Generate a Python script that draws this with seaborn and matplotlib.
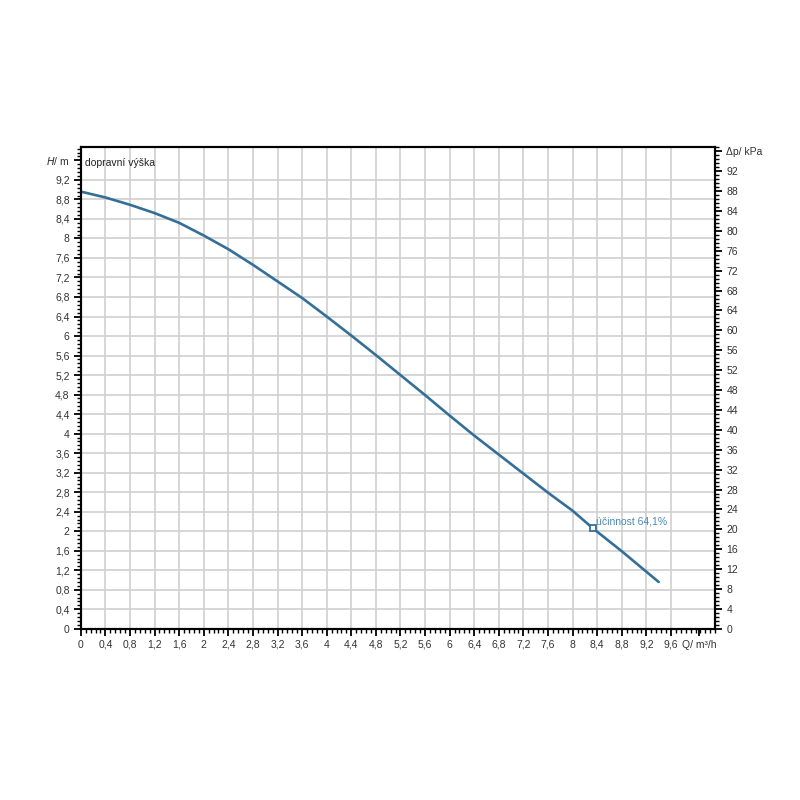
import seaborn as sns
import matplotlib.pyplot as plt
import pandas as pd
import numpy as np
from matplotlib.ticker import MultipleLocator, FixedLocator

# pump curve
Q = [0, 0.4, 0.8, 1.2, 1.6, 2.0, 2.4, 2.8, 3.2, 3.6, 4.0, 4.4, 4.8, 5.2, 5.6,
     6.0, 6.4, 6.8, 7.2, 7.6, 8.0, 8.33, 8.8, 9.2, 9.4]
H = [8.96, 8.84, 8.69, 8.52, 8.32, 8.06, 7.78, 7.46, 7.12, 6.78, 6.40, 6.01, 5.61, 5.20, 4.79,
     4.37, 3.96, 3.57, 3.18, 2.79, 2.42, 2.06, 1.59, 1.17, 0.96]
duty_q = 8.33
duty_h = 2.06
duty_text = 'účinnost 64,1%'

x_ticks = [round(0.4 * i, 1) for i in range(25)]
h_ticks = [round(0.4 * i, 1) for i in range(24)]
p_ticks = list(range(0, 93, 4))
RHO_G = 9.81

df = pd.DataFrame({'Q': Q, 'H': H})

sns.set_style('white')
plt.rcParams['font.family'] = ['Liberation Sans', 'DejaVu Sans']

fig = plt.figure(figsize=(8, 8), dpi=100)
ax = fig.add_axes([0.101, 0.214, 0.793, 0.602])

line_col = '#336f98'
sns.lineplot(data=df, x='Q', y='H', ax=ax, color=line_col, linewidth=1.9)
ax.plot([duty_q], [duty_h], marker='s', markersize=5, markerfacecolor='white',
        markeredgecolor=line_col, markeredgewidth=1.3, zorder=5)
ax.text(duty_q + 0.05, duty_h + 0.13, duty_text, color='#4a8ab5', fontsize=7.5, va='center')

ax.set_xlim(0, 10.32)
ax.set_ylim(0, 9.87)

def fmt(v):
    s = ('%.1f' % v).rstrip('0').rstrip('.')
    return s.replace('.', ',')

# unit label sits in place of the 10 tick, a little to the right
ax.xaxis.set_major_locator(FixedLocator(x_ticks + [10.06]))
ax.set_xticklabels([fmt(v) for v in x_ticks] + ['Q/ m³/h'])
ax.yaxis.set_major_locator(FixedLocator(h_ticks + [9.6]))
ax.set_yticklabels([fmt(v) for v in h_ticks] + ['$H$/ m'])
ax.xaxis.set_minor_locator(MultipleLocator(0.08))
ax.yaxis.set_minor_locator(MultipleLocator(0.08))

ax.set_xlabel('')
ax.set_ylabel('')
ax.grid(False)
for v in x_ticks[1:]:
    ax.axvline(v, color='#d0d0d0', linewidth=1.2, zorder=0)
for v in h_ticks[1:]:
    ax.axhline(v, color='#d0d0d0', linewidth=1.2, zorder=0)

ax.tick_params(which='major', direction='out', length=5, width=1.3, labelsize=7.5,
               color='black', labelcolor='#333333', pad=3)
ax.tick_params(which='minor', direction='out', length=3, width=1, color='black')
ax.tick_params(axis='x', which='both', bottom=True)
ax.tick_params(axis='y', which='both', left=True)
for s in ax.spines.values():
    s.set_color('black')
    s.set_linewidth(1.5)

ax.text(0.07, 9.55, 'dopravní výška', fontsize=7.5, va='center', color='#222222')

ax2 = ax.twinx()
ax2.set_ylim(0, 9.87 * RHO_G)
ax2.yaxis.set_major_locator(FixedLocator(p_ticks + [96]))
ax2.set_yticklabels([str(v) for v in p_ticks] + ['Δp/ kPa'])
ax2.yaxis.set_minor_locator(MultipleLocator(0.8))
ax2.tick_params(which='major', direction='out', length=5, width=1.3, labelsize=7.5,
                color='black', labelcolor='#333333', pad=3)
ax2.tick_params(which='minor', direction='out', length=3, width=1, color='black')
ax2.tick_params(axis='y', which='both', right=True)
for s in ax2.spines.values():
    s.set_color('black')
    s.set_linewidth(1.5)
ax2.grid(False)

fig.savefig('out.png', dpi=100, facecolor='white')
